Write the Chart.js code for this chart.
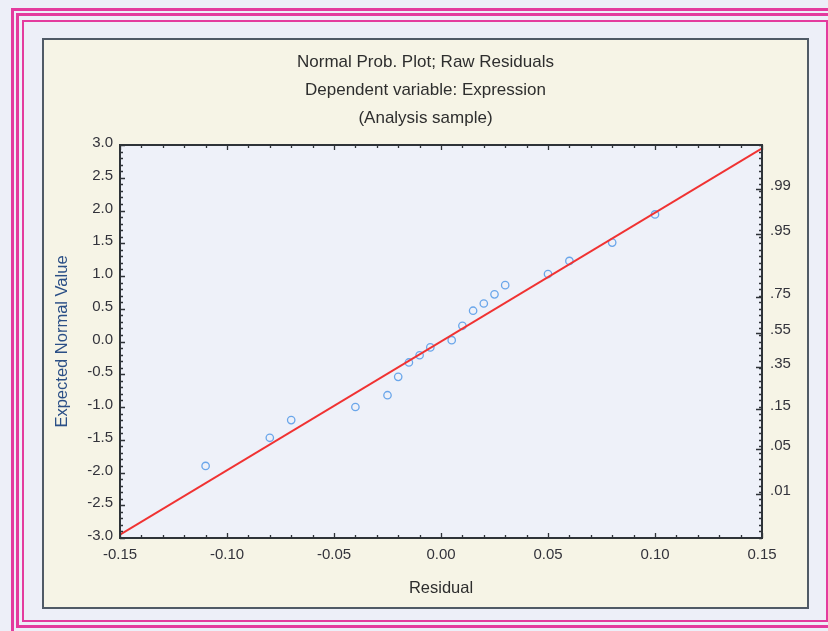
<!DOCTYPE html>
<html>
<head>
<meta charset="utf-8">
<script src="https://cdn.jsdelivr.net/npm/chart.js@4"></script>
<style>
  html, body { margin: 0; padding: 0; }
  body { width: 828px; height: 631px; background: #edeff8; position: relative; overflow: hidden; font-family: "Liberation Sans", Arial, sans-serif; }
  .line { position: absolute; box-sizing: border-box; border-style: solid; border-color: #e43b9e; }
  #frame1 { left: 11px; top: 8px; width: 840px; height: 650px; border-width: 3px; }
  #frame2 { left: 16px; top: 13px; width: 820px; height: 615px; border-width: 3px; }
  #frame3 { left: 22px; top: 20px; width: 806px; height: 602px; border-width: 2px; }
  #panel { position: absolute; left: 42px; top: 38px; width: 767px; height: 571px; box-sizing: border-box;
           border: 2px solid #505a66; background: #f6f4e6; }
  #wrap { position: relative; width: 763px; height: 567px; }
</style>
</head>
<body>
<div class="line" id="frame1"></div>
<div class="line" id="frame2"></div>
<div class="line" id="frame3"></div>
<div id="panel"><div id="wrap"><canvas id="npp"></canvas></div></div>
<script>
// Normal probability plot of raw residuals

const titleLines = ['Normal Prob. Plot; Raw Residuals', 'Dependent variable: Expression', '(Analysis sample)'];

const residuals = [-0.11, -0.08, -0.07, -0.04, -0.025, -0.02, -0.015, -0.01, -0.005, 0.005,
                   0.01, 0.015, 0.02, 0.025, 0.03, 0.05, 0.06, 0.08, 0.10];
const expectedNormal = [-1.90, -1.47, -1.20, -1.00, -0.82, -0.54, -0.32, -0.21, -0.09, 0.02,
                        0.24, 0.47, 0.58, 0.72, 0.86, 1.03, 1.23, 1.51, 1.94];

// fitted reference line
const lineX = [-0.15, 0.15];
const lineY = [-2.95, 2.95];

// right axis: cumulative probabilities at their normal quantiles
const probLabels = ['.01', '.05', '.15', '.35', '.55', '.75', '.95', '.99'];
const probZ = [-2.326, -1.645, -1.036, -0.385, 0.126, 0.674, 1.645, 2.326];

const FONT = '"Liberation Sans", Arial, sans-serif';
const TEXT = '#33333b';
const tickFont = { family: FONT, size: 15 };

// plot background, frame and inward tick marks
const frameTicks = {
  id: 'frameTicks',
  beforeDraw(chart) {
    const { ctx, chartArea: a } = chart;
    ctx.save();
    ctx.fillStyle = '#eef1f9';
    ctx.fillRect(a.left, a.top, a.right - a.left, a.bottom - a.top);
    ctx.restore();
  },
  afterDraw(chart) {
    const { ctx, chartArea: a } = chart;
    const x = chart.scales.x, y = chart.scales.y, y2 = chart.scales.y2;
    ctx.save();
    ctx.strokeStyle = '#2e3338';
    ctx.lineWidth = 1.3;
    ctx.beginPath();
    // x ticks, top and bottom
    for (let i = 0; i <= 30; i++) {
      const v = -0.15 + i * 0.01;
      const px = Math.round(x.getPixelForValue(v)) + 0.5;
      const len = i % 5 === 0 ? 5 : 3;
      ctx.moveTo(px, a.bottom); ctx.lineTo(px, a.bottom - len);
      ctx.moveTo(px, a.top); ctx.lineTo(px, a.top + len);
    }
    // y ticks, left and right
    for (let i = 0; i <= 60; i++) {
      const v = -3 + i * 0.1;
      const py = Math.round(y.getPixelForValue(v)) + 0.5;
      const len = i % 5 === 0 ? 5 : 3;
      ctx.moveTo(a.left, py); ctx.lineTo(a.left + len, py);
      ctx.moveTo(a.right, py); ctx.lineTo(a.right - 3, py);
    }
    probZ.forEach(z => {
      const py = Math.round(y2.getPixelForValue(z)) + 0.5;
      ctx.moveTo(a.right, py); ctx.lineTo(a.right - 6, py);
    });
    ctx.stroke();
    ctx.lineWidth = 2;
    ctx.strokeRect(a.left, a.top, a.right - a.left, a.bottom - a.top);
    ctx.restore();
  },
};

new Chart(document.getElementById('npp'), {
  type: 'scatter',
  data: {
    datasets: [
      {
        label: 'Residuals',
        data: residuals.map((r, i) => ({ x: r, y: expectedNormal[i] })),
        pointStyle: 'circle',
        pointRadius: 3.7,
        pointBorderWidth: 1.3,
        pointBorderColor: '#6aa6ea',
        pointBackgroundColor: 'rgba(0,0,0,0)',
        order: 2,
      },
      {
        label: 'Line',
        type: 'line',
        data: lineX.map((v, i) => ({ x: v, y: lineY[i] })),
        borderColor: '#f03232',
        borderWidth: 2,
        pointRadius: 0,
        fill: false,
        order: 1,
      },
    ],
  },
  options: {
    responsive: true,
    maintainAspectRatio: false,
    animation: false,
    layout: { padding: 0 },
    plugins: {
      legend: { display: false },
      tooltip: { enabled: false },
      title: {
        display: true,
        text: titleLines,
        color: '#2e2e2e',
        font: { family: FONT, size: 17, weight: 'normal', lineHeight: '28px' },
        padding: { top: 8, bottom: 13 },
      },
    },
    scales: {
      x: {
        type: 'linear',
        min: -0.15,
        max: 0.15,
        grid: { display: false, drawTicks: false },
        border: { display: false },
        ticks: {
          stepSize: 0.05,
          padding: 8,
          color: TEXT,
          font: tickFont,
          callback: v => v.toFixed(2),
        },
        title: {
          display: true,
          text: 'Residual',
          color: '#2e2e2e',
          font: { family: FONT, size: 16.5 },
          padding: { top: 4, bottom: 9 },
        },
        afterFit(s) { s.height = 69; },
      },
      y: {
        type: 'linear',
        position: 'left',
        min: -3,
        max: 3,
        grid: { display: false, drawTicks: false },
        border: { display: false },
        ticks: {
          stepSize: 0.5,
          padding: 7,
          labelOffset: -2,
          color: TEXT,
          font: tickFont,
          callback: v => v.toFixed(1),
        },
        title: {
          display: true,
          text: 'Expected Normal Value',
          color: '#2b4f86',
          font: { family: FONT, size: 16.5 },
          padding: { top: 9, bottom: 0 },
        },
        afterFit(s) { s.width = 76; },
      },
      y2: {
        type: 'linear',
        position: 'right',
        min: -3,
        max: 3,
        grid: { display: false, drawTicks: false },
        border: { display: false },
        afterBuildTicks(s) { s.ticks = probZ.map(v => ({ value: v })); },
        ticks: {
          padding: 8,
          labelOffset: -3,
          color: TEXT,
          font: tickFont,
          callback: (v, i) => probLabels[i],
        },
        afterFit(s) { s.width = 45; },
      },
    },
  },
  plugins: [frameTicks],
});
</script>
</body>
</html>
